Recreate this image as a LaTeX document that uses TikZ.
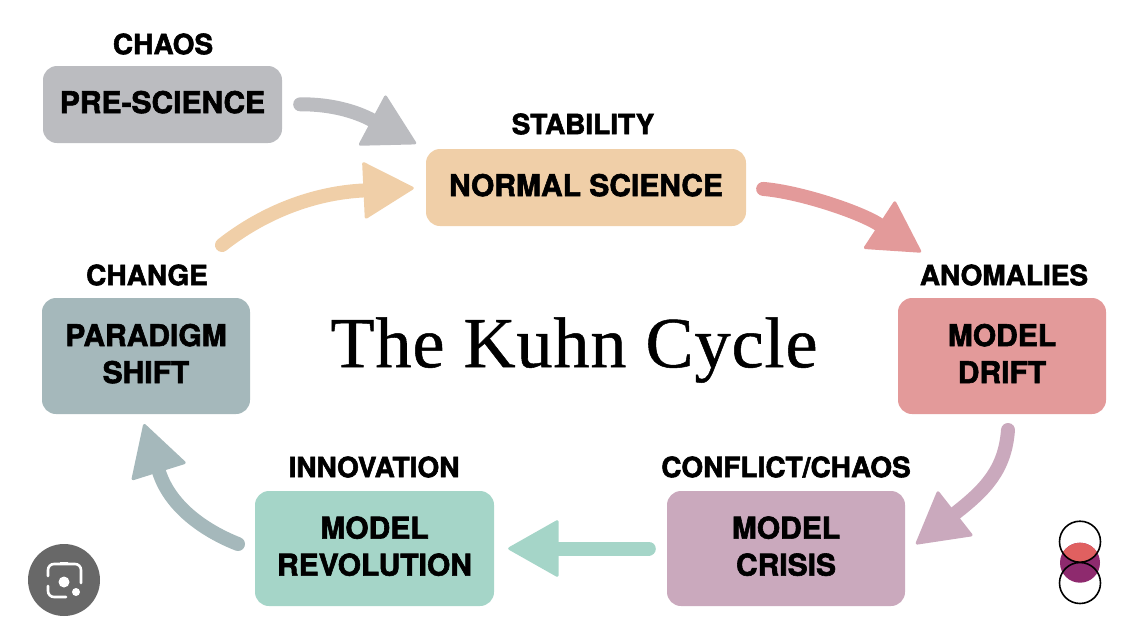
\documentclass[tikz,border=0pt]{standalone}
\usepackage{fontspec}
\setmainfont[LetterSpace=1.4,FakeBold=0.7]{Liberation Serif}
\newfontfamily\labelfont[BoldFeatures={FakeBold=2}]{TeX Gyre Heros}
\usetikzlibrary{arrows.meta,positioning}
\definecolor{pre_gray}{RGB}{187,188,192}
\definecolor{normal_tan}{RGB}{240,207,168}
\definecolor{drift_red}{RGB}{227,154,154}
\definecolor{crisis_mauve}{RGB}{202,169,189}
\definecolor{revol_teal}{RGB}{165,213,200}
\definecolor{shift_slate}{RGB}{165,184,187}
\definecolor{logo_red}{RGB}{224,96,96}
\definecolor{logo_purple}{RGB}{142,42,110}
\definecolor{lens_gray}{RGB}{104,104,104}
\tikzset{
  stagebox/.style={rounded corners=14pt,align=center,inner sep=0pt,text depth=5pt,
    font=\labelfont\bfseries\fontsize{30}{37}\selectfont},
  stagetag/.style={font=\labelfont\bfseries\fontsize{28}{30}\selectfont},
  flow/.style={line width=14pt,line cap=round,color=#1,
    -{Triangle[length=52pt,width=58pt,round,line width=3pt]}},
}
\begin{document}
\begin{tikzpicture}[x=1pt,y=-1pt]
        \useasboundingbox (0,0) rectangle (1146,638);
        % stages
        \node[stagebox,fill=pre_gray,minimum width=239pt,minimum height=77pt] (prescience) at (162.5,104.5) {PRE-SCIENCE};
        \node[stagebox,fill=normal_tan,minimum width=320pt,minimum height=77pt] (normal) at (586,187.5) {NORMAL SCIENCE};
        \node[stagebox,fill=drift_red,minimum width=208pt,minimum height=116pt] (drift) at (1002,356) {MODEL\\DRIFT};
        \node[stagebox,fill=crisis_mauve,minimum width=238pt,minimum height=115pt] (crisis) at (786,548.5) {MODEL\\CRISIS};
        \node[stagebox,fill=revol_teal,minimum width=239pt,minimum height=115pt] (revolution) at (374.5,548.5) {MODEL\\REVOLUTION};
        \node[stagebox,fill=shift_slate,minimum width=208pt,minimum height=116pt] (shift) at (146,356) {PARADIGM\\SHIFT};
        % tags
        \node[stagetag] (tagchaos) at (163,44) {CHAOS};
        \node[stagetag] (tagstability) at (583,124) {STABILITY};
        \node[stagetag] (taganomalies) at (1004,275) {ANOMALIES};
        \node[stagetag] (tagchange) at (147,275) {CHANGE};
        \node[stagetag] (taginnovation) at (374,467) {INNOVATION};
        \node[stagetag] (tagconflict) at (786,467) {CONFLICT/CHAOS};
        \node[font=\fontsize{72}{80}\selectfont] (title) at (574,350) {The Kuhn Cycle};
        % free ends of the arrows
        \coordinate (drifttip) at (921,252);
        \coordinate (drifttail) at (1008,430);
        \coordinate (crisistip) at (916,544);
        \coordinate (revoltail) at (238,544);
        \coordinate (shifttip) at (144,424);
        \coordinate (shifttail) at (222,245);
        % arrows
        \draw[flow=pre_gray,shorten <=18pt,shorten >=11pt] (prescience.east) .. controls (330,104) and (355,111) .. (normal.north west);
        \draw[flow=drift_red,shorten <=17pt] (normal.east) .. controls (800,192) and (860,212) .. (drifttip);
        \draw[flow=crisis_mauve] (drifttail) .. controls (1005,470) and (985,490) .. (crisistip);
        \draw[flow=revol_teal,shorten <=18pt,shorten >=14pt] (crisis.west) -- (revolution.east);
        \draw[flow=shift_slate] (revoltail) .. controls (210,533) and (171,510) .. (shifttip);
        \draw[flow=normal_tan,shorten >=12pt] (shifttail) .. controls (260,215) and (310,193) .. (normal.west);
        % logo
        \fill[logo_purple] (1080,562.7) circle (20);
        \begin{scope}
          \clip (1080,541.7) circle (20.5);
          \fill[logo_red] (1080,562.7) circle (20);
        \end{scope}
        \draw[black,line width=1.6pt] (1080,541.7) circle (20.5) (1080,583) circle (20.5);
        % lens button
        \fill[lens_gray] (64,580) circle (36);
        \draw[white,line width=2.6pt,line cap=round,rounded corners=6pt]
          (48,576) -- (48,564) -- (81,564) -- (81,583);
        \draw[white,line width=2.6pt,line cap=round,rounded corners=6pt]
          (48,586) -- (48,597) -- (66,597);
        \fill[white] (60,562) rectangle (68,564) (64,582) circle (5.5) (76,592) circle (4);
\end{tikzpicture}
\end{document}
